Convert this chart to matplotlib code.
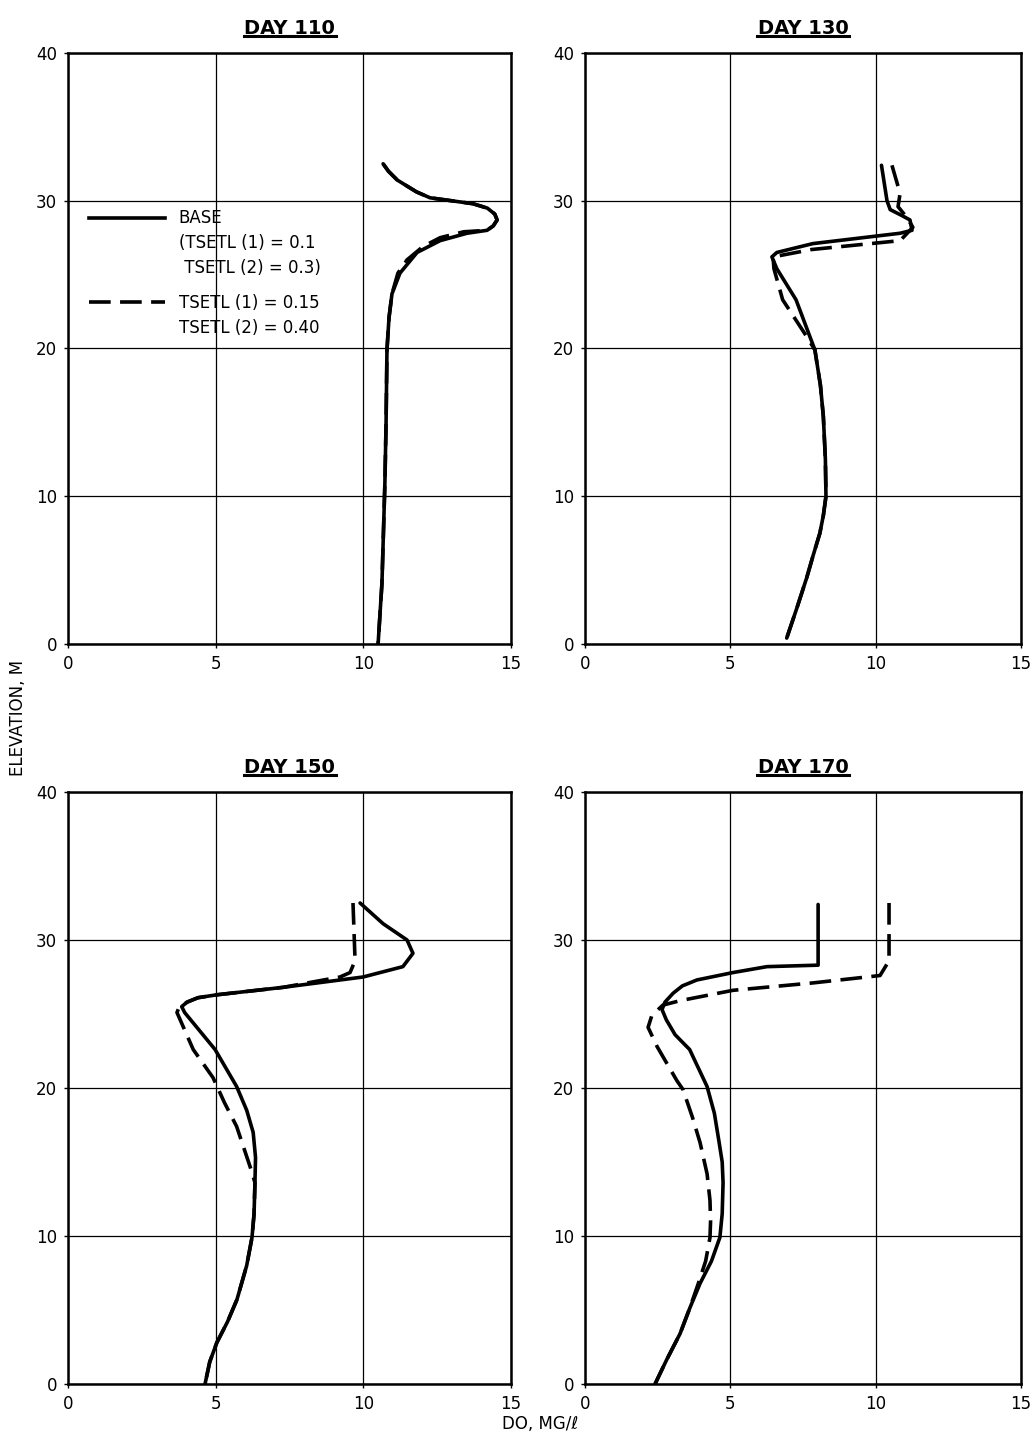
import matplotlib
matplotlib.use("Agg")
import matplotlib.pyplot as plt
from matplotlib.lines import Line2D

# ---- data (DO in mg/l vs elevation in m) ----
titles = ["DAY 110", "DAY 130", "DAY 150", "DAY 170"]
x_ticks = [0, 5, 10, 15]
y_ticks = [0, 10, 20, 30, 40]

d110_base_x = [10.67, 10.85, 11.15, 11.8, 12.26, 13.71, 14.2, 14.45, 14.53, 14.4, 14.19, 13.51, 12.6, 11.82, 11.24, 10.97, 10.87, 10.8, 10.77, 10.73, 10.63, 10.5]
d110_base_y = [32.5, 32.0, 31.4, 30.6, 30.2, 29.8, 29.5, 29.1, 28.7, 28.3, 28.0, 27.8, 27.3, 26.5, 25.1, 23.7, 22.1, 19.9, 15.0, 10.9, 4.1, 0.0]
d110_alt_x = [10.67, 10.85, 11.15, 11.8, 12.26, 13.71, 14.2, 14.45, 14.53, 14.4, 14.19, 13.4, 12.6, 12.02, 11.48, 11.17, 10.97, 10.87, 10.8, 10.77, 10.73, 10.63, 10.5]
d110_alt_y = [32.5, 32.0, 31.4, 30.6, 30.2, 29.8, 29.5, 29.1, 28.7, 28.3, 28.0, 27.9, 27.5, 26.9, 26.0, 25.1, 23.7, 22.1, 19.9, 15.0, 10.9, 4.1, 0.0]

d130_base_x = [10.2, 10.39, 10.5, 10.9, 11.18, 11.25, 10.84, 7.84, 6.6, 6.43, 6.6, 7.26, 7.91, 8.1, 8.2, 8.27, 8.29, 8.2, 8.08, 7.85, 7.63, 7.3, 6.94]
d130_base_y = [32.4, 30.0, 29.4, 29.0, 28.7, 28.0, 27.8, 27.1, 26.5, 26.2, 25.4, 23.3, 19.9, 17.5, 15.4, 12.5, 10.0, 8.7, 7.5, 6.0, 4.5, 2.5, 0.4]
d130_alt_x = [10.56, 10.84, 10.77, 11.1, 11.28, 10.84, 7.8, 6.47, 6.5, 6.8, 7.63, 7.91, 8.1, 8.2, 8.27, 8.29, 8.2, 8.08, 7.85, 7.63, 7.3, 6.94]
d130_alt_y = [32.4, 30.5, 29.6, 28.8, 28.2, 27.3, 26.7, 26.2, 25.4, 23.3, 20.8, 19.9, 17.5, 15.4, 12.5, 10.0, 8.7, 7.5, 6.0, 4.5, 2.5, 0.4]

d150_base_x = [9.89, 10.67, 11.48, 11.68, 11.34, 9.99, 7.28, 5.05, 4.4, 4.03, 3.85, 3.95, 4.98, 5.71, 6.05, 6.27, 6.35, 6.33, 6.3, 6.23, 6.05, 5.72, 5.4, 5.04, 4.8, 4.64]
d150_base_y = [32.5, 31.1, 30.0, 29.1, 28.2, 27.5, 26.8, 26.3, 26.1, 25.8, 25.5, 25.1, 22.6, 20.1, 18.5, 17.0, 15.3, 13.6, 11.5, 9.9, 8.0, 5.7, 4.2, 2.8, 1.5, 0.0]
d150_alt_x = [9.65, 9.72, 9.55, 9.21, 7.28, 5.05, 4.4, 4.03, 3.75, 3.69, 4.24, 4.91, 5.3, 5.71, 6.23, 6.33, 6.3, 6.23, 6.05, 5.72, 5.4, 5.04, 4.8, 4.64]
d150_alt_y = [32.5, 28.6, 27.8, 27.5, 26.8, 26.3, 26.1, 25.8, 25.4, 25.1, 22.6, 20.7, 19.0, 17.4, 14.3, 13.6, 11.5, 9.9, 8.0, 5.7, 4.2, 2.8, 1.5, 0.0]

d170_base_x = [8.02, 8.02, 6.26, 5.09, 3.85, 3.35, 3.03, 2.75, 2.65, 2.8, 3.1, 3.6, 4.2, 4.45, 4.6, 4.72, 4.75, 4.72, 4.64, 4.35, 3.96, 3.6, 3.27, 2.8, 2.41]
d170_base_y = [32.4, 28.3, 28.2, 27.8, 27.3, 26.9, 26.4, 25.8, 25.3, 24.6, 23.6, 22.6, 20.1, 18.3, 16.5, 15.0, 13.6, 11.5, 9.9, 8.3, 6.8, 5.1, 3.4, 1.6, 0.0]
d170_alt_x = [10.46, 10.46, 10.15, 7.84, 5.09, 3.27, 2.68, 2.3, 2.17, 2.48, 3.16, 3.37, 3.7, 3.96, 4.2, 4.3, 4.32, 4.3, 4.15, 3.9, 3.6, 3.27, 2.8, 2.41]
d170_alt_y = [32.5, 28.6, 27.6, 27.1, 26.6, 25.9, 25.6, 24.9, 24.1, 22.8, 20.5, 19.9, 18.0, 16.3, 14.2, 12.4, 11.0, 9.9, 8.3, 6.8, 5.1, 3.4, 1.6, 0.0]

base_series = [(d110_base_x, d110_base_y), (d130_base_x, d130_base_y),
               (d150_base_x, d150_base_y), (d170_base_x, d170_base_y)]
alt_series = [(d110_alt_x, d110_alt_y), (d130_alt_x, d130_alt_y),
              (d150_alt_x, d150_alt_y), (d170_alt_x, d170_alt_y)]

base_labels = ["BASE", "(TSETL (1) = 0.1", " TSETL (2) = 0.3)"]
alt_labels = ["TSETL (1) = 0.15", "TSETL (2) = 0.40"]

# ---- figure ----
W, H = 1034, 1435
fig = plt.figure(figsize=(W / 100, H / 100), dpi=100)
fig.patch.set_facecolor("white")

boxes = [(68, 53, 511, 644), (585, 53, 1021, 644),
         (68, 792, 511, 1384), (585, 792, 1021, 1384)]

LW = 2.6
DASH = (6, 2.6)

for i, (x0, y0, x1, y1) in enumerate(boxes):
    ax = fig.add_axes([x0 / W, 1 - y1 / H, (x1 - x0) / W, (y1 - y0) / H])
    ax.set_xlim(0, 15)
    ax.set_ylim(0, 40)
    ax.set_xticks(x_ticks)
    ax.set_yticks(y_ticks)
    ax.grid(True, color="black", linewidth=0.9)
    ax.set_axisbelow(True)
    for s in ax.spines.values():
        s.set_linewidth(1.8)
        s.set_color("black")
    ax.tick_params(axis="both", length=3, width=1, labelsize=12, color="black")
    ax.tick_params(axis="y", pad=5)
    ax.tick_params(axis="x", pad=5)

    ax_, ay_ = alt_series[i]
    bx_, by_ = base_series[i]
    ax.plot(ax_, ay_, color="black", linewidth=LW, linestyle=(0, DASH),
            solid_capstyle="butt", dash_capstyle="butt", zorder=3)
    ax.plot(bx_, by_, color="black", linewidth=LW, solid_joinstyle="round",
            solid_capstyle="round", zorder=4)

    ax.set_title(titles[i], fontsize=14, fontweight="bold", pad=14)
    cx = (x0 + x1) / 2
    fig.add_artist(Line2D([(cx - 46) / W, (cx + 46) / W],
                          [1 - (y0 - 17) / H, 1 - (y0 - 17) / H],
                          color="black", linewidth=2.2))

    if i == 0:
        h1 = [Line2D([], [], color="black", linewidth=LW),
              Line2D([], [], color="none"),
              Line2D([], [], color="none")]
        leg1 = ax.legend(h1, base_labels, loc="upper left",
                         bbox_to_anchor=(0.02, 0.755), frameon=False,
                         fontsize=12, handlelength=4.6, handletextpad=0.8,
                         labelspacing=0.42, borderpad=0.2)
        ax.add_artist(leg1)
        h2 = [Line2D([], [], color="black", linewidth=LW, linestyle=(0, DASH)),
              Line2D([], [], color="none")]
        ax.legend(h2, alt_labels, loc="upper left",
                  bbox_to_anchor=(0.02, 0.612), frameon=False,
                  fontsize=12, handlelength=4.6, handletextpad=0.8,
                  labelspacing=0.42, borderpad=0.2)

fig.text(18 / W, 1 - 718 / H, "ELEVATION, M", rotation=90, fontsize=12,
         ha="center", va="center")
fig.text(540 / W, 1 - 1424 / H, "DO, MG/\u2113", fontsize=12,
         ha="center", va="center")

fig.savefig("out.png", dpi=100, facecolor="white")
